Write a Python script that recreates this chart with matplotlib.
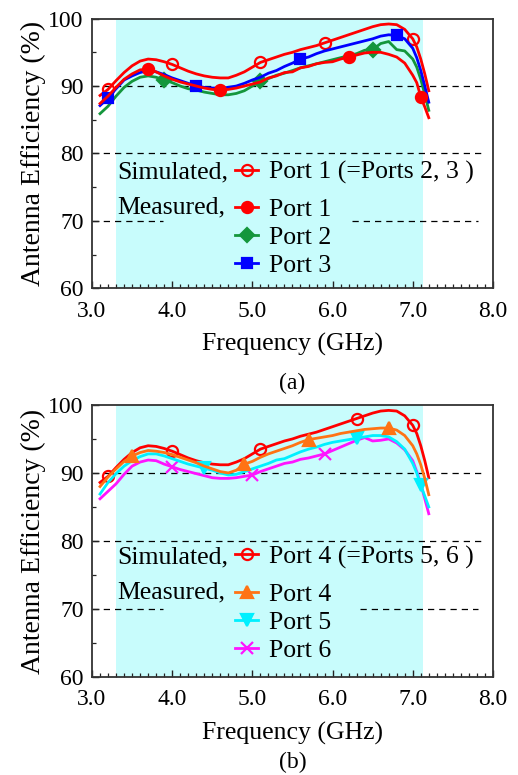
import numpy as np
import matplotlib
matplotlib.use('Agg')
from matplotlib import pyplot as plt
from matplotlib.lines import Line2D
from matplotlib.ticker import MultipleLocator

plt.rcParams['font.family'] = ['Liberation Serif', 'DejaVu Serif']
plt.rcParams['mathtext.fontset'] = 'stix'

# frequency grid (GHz), finer steps on the upper band edge
freq = [3.1, 3.2, 3.3, 3.4, 3.5, 3.6, 3.7, 3.8, 3.9, 4.0,
        4.1, 4.2, 4.3, 4.4, 4.5, 4.6, 4.7, 4.8, 4.9, 5.0,
        5.1, 5.2, 5.3, 5.4, 5.5, 5.6, 5.7, 5.8, 5.9, 6.0,
        6.1, 6.2, 6.3, 6.4, 6.5, 6.6, 6.7, 6.8, 6.9, 7.0,
        7.05, 7.1, 7.15, 7.2]

# simulated efficiency, identical for every port by symmetry
sim = [88.6, 89.5, 90.8, 92.0, 93.0, 93.7, 94.0, 93.9, 93.6, 93.2,
       92.7, 92.2, 91.8, 91.5, 91.3, 91.2, 91.2, 91.6, 92.1, 92.8,
       93.5, 93.9, 94.3, 94.7, 95.0, 95.4, 95.7, 96.0, 96.4, 96.8,
       97.2, 97.6, 98.0, 98.4, 98.8, 99.1, 99.2, 99.1, 98.4, 97.0,
       95.8, 94.0, 91.8, 89.3]

# measured, ports 1-3
meas1 = [87.4, 88.5, 89.8, 91.0, 91.8, 92.4, 92.5, 92.1, 91.5, 91.0,
         90.6, 90.3, 90.0, 89.7, 89.5, 89.4, 89.5, 89.7, 90.0, 90.3,
         90.6, 91.2, 91.5, 92.0, 92.1, 92.7, 92.9, 93.3, 93.5, 93.6,
         94.0, 94.3, 94.6, 94.9, 95.0, 95.0, 94.7, 94.3, 93.4, 91.6,
         90.5, 88.4, 86.9, 85.3]
meas2 = [85.9, 87.0, 88.5, 89.8, 90.7, 91.3, 91.5, 91.3, 90.9, 90.5,
         90.0, 89.6, 89.4, 89.1, 88.9, 88.7, 88.7, 88.9, 89.3, 90.0,
         90.7, 91.1, 91.6, 91.9, 92.3, 92.7, 93.0, 93.3, 93.6, 93.9,
         94.2, 94.5, 94.8, 95.3, 95.4, 96.3, 96.6, 95.4, 95.2, 94.0,
         92.8, 91.0, 88.8, 86.4]
meas3 = [87.1, 88.2, 89.6, 90.9, 91.5, 92.0, 92.3, 92.1, 91.7, 91.2,
         90.8, 90.4, 90.0, 89.8, 89.7, 89.7, 89.8, 90.0, 90.4, 90.9,
         91.3, 91.9, 92.3, 92.9, 93.4, 94.0, 94.3, 94.8, 95.2, 95.5,
         95.8, 96.1, 96.4, 96.7, 97.0, 97.4, 97.6, 97.5, 97.0, 95.6,
         94.2, 92.3, 90.0, 87.6]

# measured, ports 4-6
meas4 = [88.0, 89.4, 90.6, 91.7, 92.5, 93.0, 93.3, 93.2, 93.0, 92.7,
         92.3, 91.9, 91.5, 91.0, 90.6, 90.2, 90.0, 90.4, 91.3, 91.7,
         92.3, 92.8, 93.2, 93.6, 94.0, 94.5, 94.9, 95.1, 95.3, 95.5,
         95.8, 96.0, 96.2, 96.4, 96.5, 96.6, 96.6, 96.3, 95.5, 94.0,
         92.8, 91.2, 89.2, 86.8]
meas5 = [86.9, 88.6, 89.9, 91.0, 91.8, 92.4, 92.8, 92.8, 92.5, 92.1,
         91.7, 91.3, 91.0, 90.7, 90.4, 90.0, 89.7, 89.8, 90.2, 90.6,
         91.0, 91.4, 91.9, 92.1, 92.6, 93.1, 93.5, 93.8, 94.2, 94.5,
         94.7, 94.9, 95.1, 95.3, 95.5, 95.5, 95.3, 94.6, 93.5, 91.4,
         90.0, 88.2, 86.6, 85.0]
meas6 = [86.2, 87.3, 88.4, 89.8, 91.0, 91.6, 91.9, 91.8, 91.3, 90.9,
         90.5, 90.2, 89.9, 89.6, 89.3, 89.2, 89.2, 89.3, 89.5, 89.7,
         90.2, 90.6, 91.0, 91.4, 91.6, 92.0, 92.2, 92.5, 92.8, 93.3,
         93.8, 94.3, 94.8, 95.2, 94.7, 94.8, 95.0, 94.4, 93.4, 91.8,
         90.2, 88.4, 86.2, 84.0]

band = (3.3, 7.13)   # shaded operating band

C_RED, C_GRN, C_BLU = '#ff0000', '#14963c', '#0000ff'
C_ORG, C_CYN, C_MAG = '#ff7314', '#00f0ff', '#ff14ff'

f = np.array(freq)
FS = 18.5   # legend text size

fig = plt.figure(figsize=(5.18, 7.75), dpi=100)
ax_a = fig.add_axes([0.1776, 0.628, 0.774, 0.348])
ax_b = fig.add_axes([0.1776, 0.1265, 0.774, 0.351])


def setup(ax, cut):
    ax.axvspan(band[0], band[1], color='#c8fcfc', lw=0, zorder=0)
    for lev in (80, 90):
        ax.axhline(lev, xmax=0.977, color='k', lw=0.9, ls=(0, (5, 4)), zorder=1)
    ax.axhline(70, xmax=0.178, color='k', lw=0.9, ls=(0, (5, 4)), zorder=1)
    ax.axhline(70, xmin=cut, xmax=0.963, color='k', lw=0.9, ls=(0, (5, 4)), zorder=1)
    ax.set_xlim(3.0, 8.0)
    ax.set_ylim(60, 100)
    ax.xaxis.set_major_locator(MultipleLocator(1.0))
    ax.xaxis.set_minor_locator(MultipleLocator(0.1))
    ax.yaxis.set_major_locator(MultipleLocator(10))
    ax.yaxis.set_minor_locator(MultipleLocator(5))
    ax.set_xticklabels(['%.1f' % v for v in ax.get_xticks()])
    ax.tick_params(which='both', direction='in', top=False, right=False,
                   labelsize=17, colors='#222222', labelcolor='k')
    ax.tick_params(axis='x', which='major', pad=9)
    ax.tick_params(axis='y', which='major', pad=6)
    ax.tick_params(which='major', length=5, width=1.0)
    ax.tick_params(which='minor', length=3, width=0.9)
    for s in ax.spines.values():
        s.set_linewidth(1.3)
        s.set_color('#333333')
    ax.set_ylabel('Antenna Efficiency (%)', fontsize=20, labelpad=2)
    ax.set_xlabel('Frequency (GHz)', fontsize=18.5, labelpad=8)


def curve(ax, y, color, marker, idx, mfc=None, ms=8):
    ax.plot(f, y, color=color, lw=2.0, marker=marker, markevery=idx,
            ms=ms, mfc=mfc if mfc is not None else color,
            mec=color, mew=1.6, zorder=3)


def legends(ax, sim_label, entries, rows):
    prop = {'size': FS}
    h_sim = [Line2D([], [], color=C_RED, lw=2.0, marker='o', ms=8,
                    mfc='none', mec=C_RED, mew=1.6)]
    lg1 = ax.legend(h_sim, [sim_label], loc='center left',
                    bbox_to_anchor=(0.357, rows[0]), frameon=False, prop=prop,
                    borderpad=0, borderaxespad=0, handlelength=0.9,
                    handletextpad=0.42)
    ax.add_artist(lg1)
    hs = [Line2D([], [], color=c, lw=2.0, marker=m, ms=ms, mfc=c, mec=c, mew=1.6)
          for c, m, ms, _ in entries]
    ax.legend(hs, [e[3] for e in entries], loc='center left',
              bbox_to_anchor=(0.357, rows[1]), frameon=False, prop=prop,
              borderpad=0, borderaxespad=0, handlelength=0.9,
              handletextpad=0.42, labelspacing=0.2)
    ax.text(0.063, rows[0], 'Simulated,', transform=ax.transAxes,
            fontsize=FS, va='center', ha='left')
    ax.text(0.063, rows[2], 'Measured,', transform=ax.transAxes,
            fontsize=FS, va='center', ha='left')


# (a) ports 1-3
setup(ax_a, 0.648)
curve(ax_a, sim, C_RED, 'o', [1, 9, 20, 28, 39], mfc='none')
curve(ax_a, meas2, C_GRN, 'D', [8, 20, 34], ms=7)
curve(ax_a, meas3, C_BLU, 's', [1, 12, 25, 37], ms=7)
curve(ax_a, meas1, C_RED, 'o', [6, 15, 31, 41])
legends(ax_a, 'Port 1 (=Ports 2, 3 )',
        [(C_RED, 'o', 8, 'Port 1'), (C_GRN, 'D', 7, 'Port 2'), (C_BLU, 's', 7, 'Port 3')],
        (0.43, 0.189, 0.30))
fig.text(0.5645, 1 - 383 / 775, '(a)', fontsize=17, ha='center', va='center')

# (b) ports 4-6
setup(ax_b, 0.668)
curve(ax_b, sim, C_RED, 'o', [1, 9, 20, 32, 39], mfc='none')
curve(ax_b, meas6, C_MAG, 'x', [9, 19, 28], ms=9)
curve(ax_b, meas5, C_CYN, 'v', [13, 32, 41], ms=9)
curve(ax_b, meas4, C_ORG, '^', [4, 18, 26, 36], ms=9)
legends(ax_b, 'Port 4 (=Ports 5, 6 )',
        [(C_ORG, '^', 9, 'Port 4'), (C_CYN, 'v', 9, 'Port 5'), (C_MAG, 'x', 9, 'Port 6')],
        (0.441, 0.199, 0.3125))
fig.text(0.5645, 1 - 762 / 775, '(b)', fontsize=17, ha='center', va='center')

fig.savefig('out.png', dpi=100)
